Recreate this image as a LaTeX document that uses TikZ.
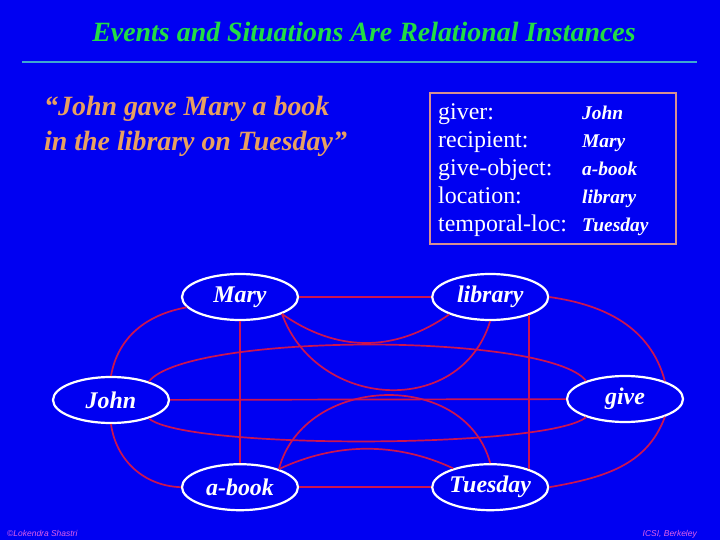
\documentclass[tikz,border=0pt]{standalone}
\usepackage{fontspec}
\setmainfont{Liberation Serif}
\newfontfamily\fussfont{Liberation Sans}
\usetikzlibrary{shapes.geometric, positioning}
\definecolor{grund}{RGB}{0,0,242}
\definecolor{titel}{HTML}{22DD44}
\definecolor{linie}{HTML}{3FA8D0}
\definecolor{zitat}{HTML}{E8A060}
\definecolor{rahmen}{HTML}{D89090}
\definecolor{kante}{HTML}{CC1450}
\definecolor{fuss}{HTML}{E060E8}

\begin{document}
\begin{tikzpicture}[x=1bp, y=1bp,
    ent/.style={draw=white, line width=2.2bp, ellipse, fill=grund,
                minimum width=116bp, minimum height=46bp, inner sep=0pt,
                text=white, font=\fontsize{24}{28}\selectfont\bfseries\itshape},
    rel/.style={draw=kante, line width=1.7bp},
    role/.style={anchor=base west, inner sep=0pt, text=white,
                 font=\fontsize{24}{28}\selectfont},
    filler/.style={anchor=base west, inner sep=0pt, text=white,
                   font=\fontsize{19.5}{24}\selectfont\bfseries\itshape},
    quote/.style={anchor=base west, inner sep=0pt, text=zitat,
                  font=\fontsize{28}{34}\selectfont\bfseries\itshape},
    credit/.style={inner sep=0pt, text=fuss,
                   font=\fussfont\fontsize{8.5}{10}\selectfont\itshape},
    node distance=132bp
  ]
  \fill[grund] (0,0) rectangle (720,-540);
  \useasboundingbox (0,0) rectangle (720,-540);

  % Titel
  \node[anchor=base, inner sep=0pt, text=titel,
        font=\fontsize{28}{34}\selectfont\bfseries\itshape] (title) at (364,-42)
       {Events and Situations Are Relational Instances};
  \draw[linie, line width=2.5bp] (22,-62) -- (697,-62);

  \node[quote] (q1) at (44,-116) {“John gave Mary a book};
  \node[quote] (q2) at (44,-151) {in the library on Tuesday”};

  % Rollen
  \node[draw=rahmen, line width=2bp, minimum width=246bp, minimum height=151bp,
        inner sep=0pt] (frame) at (553,-168.5) {};
  \node[role] (giver) at (438,-120) {giver:};
  \node[role] (recip) at (438,-148) {recipient:};
  \node[role] (obj)   at (438,-176) {give-object:};
  \node[role] (loc)   at (438,-204) {location:};
  \node[role] (temp)  at (438,-232) {temporal-loc:};
  \node[filler] (fgiver) at (582,-120) {John};
  \node[filler] (frecip) at (582,-148) {Mary};
  \node[filler] (fobj)   at (582,-176) {a-book};
  \node[filler] (floc)   at (582,-204) {library};
  \node[filler] (ftemp)  at (582,-232) {Tuesday};

  % Instanzen
  \node[ent] (mary) at (240,-297) {Mary};
  \node[ent, right=of mary] (lib) {library};
  \node[ent, below=142bp of mary] (book) {a-book};
  \node[ent, right=of book] (tue) {Tuesday};
  \node[ent] (john) at (111,-400) {John};
  \node[ent] (give) at (625,-399) {give};

  \draw[rel] (mary) -- (lib);
  \draw[rel] (book) -- (tue);
  \draw[rel] (mary) -- (book);
  \draw[rel] (lib.-25) -- (tue.25);
  \draw[rel] (john) -- (give);
  \draw[rel] (john.north) to[out=80, in=190] (mary.191);
  \draw[rel] (john.south) to[out=-82, in=178] (book.west);
  \draw[rel] (lib.east) to[out=-8, in=105] (give.24);
  \draw[rel] (tue.east) to[out=10, in=250] (give.-24);
  \draw[rel] (john.26) to[out=52, in=128, distance=62bp] (give.155);
  \draw[rel] (john.-26) to[out=-40, in=-140, distance=49bp] (give.-155);
  \draw[rel] (mary.-22) to[out=-35, in=215, distance=67bp] (lib.203);
  \draw[rel] (mary.-22) to[out=-70, in=253, distance=102bp] (lib.south);
  \draw[rel] (book.25) to[out=25, in=155, distance=63bp] (tue.153);
  \draw[rel] (book.25) to[out=75, in=105, distance=98bp] (tue.north);

  \node[credit, anchor=base west] (author) at (7,-536) {©Lokendra Shastri};
  \node[credit, anchor=base east] (inst) at (697,-536) {ICSI, Berkeley};
\end{tikzpicture}
\end{document}
